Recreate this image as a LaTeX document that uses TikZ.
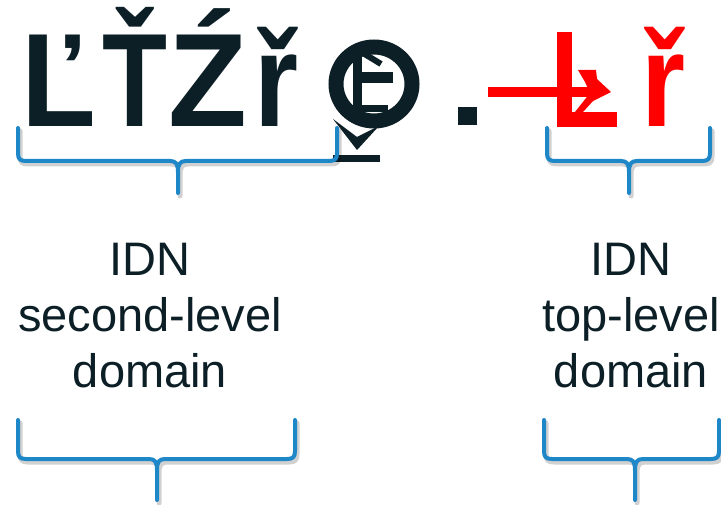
\documentclass[tikz,border=0pt]{standalone}
\usepackage{fontspec}
\setmainfont{Liberation Sans}
\definecolor{ink}{RGB}{12,31,38}
\definecolor{braceblue}{RGB}{30,135,200}
\definecolor{hotred}{RGB}{255,0,0}
\tikzset{
  glyph/.style={inner sep=0pt, anchor=base, text=ink, font=\bfseries\fontsize{133}{133}\selectfont},
  label/.style={inner sep=0pt, anchor=base, align=center, text=ink, font=\fontsize{47}{56.5}\selectfont},
  braceline/.style={draw=braceblue, line width=4pt, line cap=round, line join=round},
  braceshade/.style={draw=black, opacity=0.18, line width=5pt, line cap=round, line join=round}
}
% curly brace opening upward: #1 left x, #2 right x, #3 top y, #4 bar y, #5 tip x, #6 tip y
\newcommand{\bracepath}[6]{%
  (#1,#3) -- (#1,#4-8) .. controls (#1,#4-2) and (#1+2,#4) .. (#1+8,#4)
  -- (#5-8,#4) .. controls (#5-2,#4) and (#5,#4+3) .. (#5,#4+11) -- (#5,#6)
  (#2,#3) -- (#2,#4-8) .. controls (#2,#4-2) and (#2-2,#4) .. (#2-8,#4)
  -- (#5+8,#4) .. controls (#5+2,#4) and (#5,#4+3) .. (#5,#4+11)}
\newcommand{\upbrace}[6]{%
  \draw[braceshade, shift={(2,3)}] \bracepath{#1}{#2}{#3}{#4}{#5}{#6};
  \draw[braceline] \bracepath{#1}{#2}{#3}{#4}{#5}{#6};}
\begin{document}
\begin{tikzpicture}[x=1pt, y=-1pt]
\useasboundingbox[fill=white] (0,0) rectangle (721,505);

% second-level label glyphs
\node[glyph, xscale=0.92] (g1) at (59,127) {Ľ};
\node[glyph, xscale=0.8] (g2) at (135,127) {Ť};
\node[glyph, xscale=0.97] (g3) at (208,127) {Ź};
\node[glyph, xscale=0.85] (g4) at (276,127) {ř};

% composite glyph: ring with inner bars and a down mark
\draw[ink, line width=15pt] (374,84) ellipse [x radius=38, y radius=37];
\fill[ink] (353,55) rectangle (362,112);
\fill[ink] (355,72) rectangle (393,83);
\fill[ink] (355,105) rectangle (388,112);
\draw[ink, line width=6pt] (358,50) -- (381,64);
\fill[ink] (333,119) -- (357,150) -- (379,126) -- (357,137) -- cycle;
\fill[ink] (333,155) rectangle (380,162);

% dot
\fill[ink] (458,107) rectangle (477,125);

% top-level glyphs in red
\fill[hotred] (557,32) rectangle (572,127);
\fill[hotred] (557,112) rectangle (617,127);
\fill[hotred] (488,87) rectangle (600,97);
\fill[hotred] (578,70) -- (596,70) -- (597,79) -- (611,92) -- (593,101) -- (583,112) -- (575,112) -- (590,93) -- (585,82) -- cycle;
\node[glyph, text=hotred, xscale=0.85] (r2) at (663,127) {ř};

% braces
\upbrace{18}{337}{128}{161}{178}{193}
\upbrace{547}{710}{128}{161}{629}{193}
\upbrace{18}{295}{420}{459}{157}{500}
\upbrace{544}{719}{420}{459}{635}{500}

% labels (anchored on the baseline of their last line)
\node[label] (sld) at (150,388) {IDN\\second-level\\domain};
\node[label] (tld) at (631,388) {IDN\\top-level\\domain};
\end{tikzpicture}
\end{document}
